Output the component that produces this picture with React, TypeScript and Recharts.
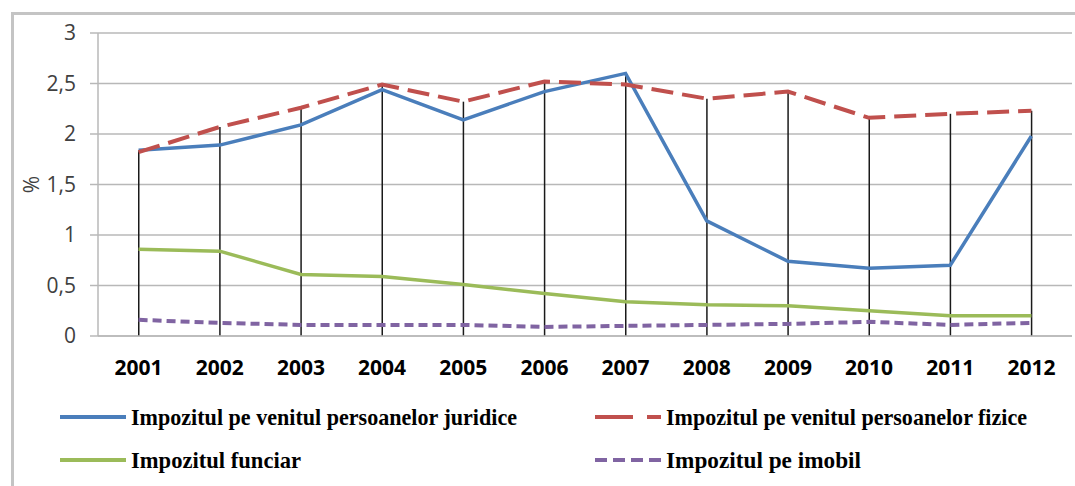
import React from 'react'
import { ComposedChart, Line, Bar, XAxis, YAxis, CartesianGrid, Label } from 'recharts'

const years = ['2001', '2002', '2003', '2004', '2005', '2006', '2007', '2008', '2009', '2010', '2011', '2012']
const juridice = [1.84, 1.89, 2.09, 2.44, 2.14, 2.42, 2.6, 1.14, 0.74, 0.67, 0.7, 1.98]
const fizice = [1.82, 2.07, 2.26, 2.49, 2.32, 2.52, 2.49, 2.35, 2.42, 2.16, 2.2, 2.23]
const funciar = [0.86, 0.84, 0.61, 0.59, 0.51, 0.42, 0.34, 0.31, 0.3, 0.25, 0.2, 0.2]
const imobil = [0.16, 0.13, 0.11, 0.11, 0.11, 0.09, 0.1, 0.11, 0.12, 0.14, 0.11, 0.13]
const yTicks = [0, 0.5, 1, 1.5, 2, 2.5, 3]

const SERIES = [
  { key: 'juridice', name: 'Impozitul pe venitul persoanelor juridice', color: '#4a7ebb', dash: undefined, legendDash: undefined, textWidth: 386 },
  { key: 'fizice', name: 'Impozitul pe venitul persoanelor fizice', color: '#c0504d', dash: '22 9', legendDash: '38 14', textWidth: 361 },
  { key: 'funciar', name: 'Impozitul funciar', color: '#9bbb59', dash: undefined, legendDash: undefined, textWidth: 170 },
  { key: 'imobil', name: 'Impozitul pe imobil', color: '#8064a2', dash: '9 5', legendDash: '12 6', textWidth: 195 },
]

const data = years.map((year, i) => ({
  year,
  juridice: juridice[i],
  fizice: fizice[i],
  funciar: funciar[i],
  imobil: imobil[i],
  top: Math.max(juridice[i], fizice[i], funciar[i], imobil[i]),
}))

function ChartLegend() {
  return (
    <svg width={1075} height={96} style={{ position: 'absolute', left: 0, top: 390 }}>
      {SERIES.map((s, i) => {
        const x = i % 2 === 0 ? 60 : 595
        const y = i < 2 ? 27 : 70
        return (
          <g key={s.key}>
            <line x1={x} x2={x + 66} y1={y} y2={y} stroke={s.color} strokeWidth={4} strokeDasharray={s.legendDash} />
            <text
              x={x + 71}
              y={y}
              dy="0.35em"
              textLength={s.textWidth}
              lengthAdjust="spacingAndGlyphs"
              style={{ fontFamily: '"Liberation Serif", serif', fontWeight: 'bold', fontSize: 23, fill: '#000' }}
            >
              {s.name}
            </text>
          </g>
        )
      })}
    </svg>
  )
}

export default function App() {
  return (
    <div style={{ position: 'absolute', left: 0, top: 0, width: 1075, height: 486, background: '#fff', overflow: 'hidden' }}>
      <div
        style={{
          position: 'absolute',
          left: 11,
          top: 12,
          width: 1100,
          height: 520,
          borderLeft: '3px solid #c4c4c4',
          borderTop: '3px solid #c4c4c4',
        }}
      />
      <ComposedChart
        width={1075}
        height={486}
        data={data}
        margin={{ top: 33, right: 3, left: 20, bottom: 120 }}
        style={{ position: 'absolute', left: 0, top: 0 }}
      >
        <CartesianGrid vertical={false} stroke="#b8b8b8" strokeWidth={1.5} />
        <XAxis
          dataKey="year"
          height={30}
          tickLine={false}
          axisLine={{ stroke: '#b8b8b8', strokeWidth: 1.5 }}
          tickSize={0}
          tickMargin={24}
          tick={{ fill: '#000', fontSize: 21, fontWeight: 'bold', fontFamily: '"Open Sans", sans-serif' }}
          interval={0}
        />
        <YAxis
          width={78}
          domain={[0, 3]}
          ticks={yTicks}
          tickSize={8}
          tickMargin={14}
          tickLine={{ stroke: '#b8b8b8', strokeWidth: 1.5 }}
          axisLine={{ stroke: '#b8b8b8', strokeWidth: 1.5 }}
          tickFormatter={(v: number) => String(v).replace('.', ',')}
          tick={{ fill: '#404040', fontSize: 21, fontFamily: '"Open Sans", sans-serif' }}
        >
          <Label
            content={({ viewBox }: any) => {
              const cx = viewBox.x + 11
              const cy = viewBox.y + viewBox.height / 2
              return (
                <text
                  x={cx}
                  y={cy}
                  transform={`rotate(-90 ${cx} ${cy})`}
                  textAnchor="middle"
                  dominantBaseline="central"
                  style={{ fill: '#404040', fontSize: 21, fontFamily: '"Open Sans", sans-serif' }}
                >
                  %
                </text>
              )
            }}
          />
        </YAxis>
        <Bar dataKey="top" barSize={1.5} fill="#1a1a1a" isAnimationActive={false} />
        {SERIES.map((s) => (
          <Line
            key={s.key}
            type="linear"
            dataKey={s.key}
            name={s.name}
            stroke={s.color}
            strokeWidth={s.dash ? 4 : 3.5}
            strokeDasharray={s.dash}
            dot={false}
            activeDot={false}
            isAnimationActive={false}
          />
        ))}
      </ComposedChart>
      <ChartLegend />
    </div>
  )
}
